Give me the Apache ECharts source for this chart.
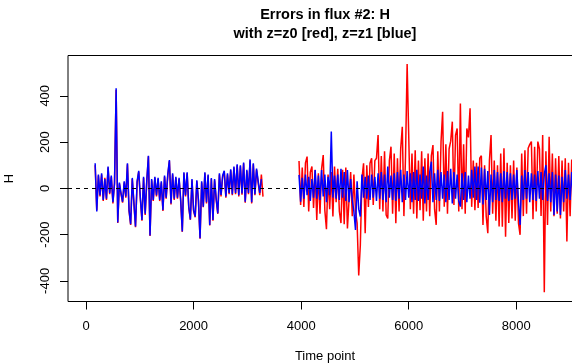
<!DOCTYPE html>
<html>
<head>
<meta charset="utf-8">
<script src="https://cdn.jsdelivr.net/npm/echarts@6/dist/echarts.min.js"></script>
<style>html,body{margin:0;padding:0;background:#fff;}#c{width:572px;height:364px;}</style>
</head>
<body>
<div id="c"></div>
<script>
// ---- data ----
const titleText = 'Errors in flux #2: H';
const subtitleText = 'with z=z0 [red], z=z1 [blue]';
const xName = 'Time point';
const yName = 'H';
const xTicks = [0, 2000, 4000, 6000, 8000];
const yTicks = [-400, -200, 0, 200, 400];

// segment 1: time points 170, 200, ... ; segment 2: 3960, 3990, ...
const seg1Start = 170, seg2Start = 3960, timeStep = 30;

const blueSeg1 = [
  108, -100, 60, -30, 65, -50, 40, -45, 94, -20,
  55, -60, 20, 432, -148, 25, -20, -58, 30, -35,
  108, -94, -155, 45, -60, -165, 30, 76, -40, -137,
  50, -110, 35, 141, -204, 40, -50, 50, -30, 45,
  -50, 30, -94, 55, -40, 60, 122, -65, 65, -45,
  50, -40, 45, -50, -186, 69, -30, 69, -79, -134,
  40, -94, -122, 35, -50, -216, 30, -79, 69, -60,
  60, -158, 45, -137, 40, -45, -108, 65, -29, 55,
  76, -35, 65, -20, 82, -25, 94, -20, 104, -30,
  100, -22, 111, -58, 80, -20, 125, -60, 108, -25,
  85, 86, -20, 40
];
const redSeg1 = [
  100, -95, 55, -35, 60, -55, 45, -50, 90, -25,
  50, -65, 25, 425, -150, 20, -25, -62, 25, -40,
  104, -98, -158, 40, -65, -168, 25, 72, -45, -140,
  45, -115, 30, 138, -206, 35, -55, 45, -35, 40,
  -55, 25, -98, 50, -45, 55, 118, -70, 60, -50,
  45, -45, 40, -55, -188, 65, -35, 65, -82, -136,
  35, -98, -125, 30, -55, -218, 25, -82, 65, -65,
  55, -160, 40, -140, 35, -50, -110, 60, -35, 50,
  72, -40, 60, -25, 78, -30, 90, -25, 100, -35,
  95, -28, 107, -62, 75, -25, 120, -65, 104, -30,
  80, 75, -30, 60, -36
];
const blueSeg2 = [
  58, -58, 45, -45, 60, -30, 50, -55, 40, -40,
  79, -45, 55, -50, 79, -35, 60, -60, 50, -30,
  245, -40, 55, -45, 60, -50, 84, -40, 70, -55,
  79, -60, 40, -50, -100, -180, 30, -90, -122, 60,
  -40, 50, -45, 55, -50, 60, -40, 50, -55, 65,
  -45, 70, -50, 60, -60, 94, -40, 55, -50, 65,
  -55, 70, -45, 80, -60, 60, -50, 75, -40, 65,
  -60, 70, -50, 80, -55, 60, -45, 94, -65, 55,
  -50, 70, 115, -60, 65, -50, 80, -55, 70, -45,
  60, -60, 75, -50, 85, -65, 70, -45, 60, -55,
  -79, 65, -50, 70, -60, 55, -45, 80, -40, 94,
  -50, 94, -62, 90, -70, 85, -50, 75, -115, 60,
  -60, 79, -50, 70, -55, 65, -60, 75, -45, 70,
  -55, 65, -50, 60, -45, 79, -60, -158, 55, -50,
  79, -45, 70, -60, 65, -50, 60, -55, 75, -45,
  70, -50, 60, 100, -55, 65, -60, 70, -115, 60,
  -100, 55, -115, 50, -60, 79, -45, 60, -50, 70,
  -40, 55, -50, 45
];
const redSeg2 = [
  118, -72, 90, -80, 110, 137, -100, 70, 94, -85,
  80, -137, 65, -110, 85, 144, -95, -177, 60, -90,
  70, -122, 94, -60, 85, -100, -150, 80, -155, 90,
  -173, -180, 70, -120, 60, -100, -150, -377, -245, 40,
  108, -194, 100, -80, 108, 130, -72, 120, 130, 230,
  -90, 140, -100, 160, -115, -130, 120, 180, -110, 150,
  -151, 130, -100, 170, 266, -120, 140, 537, 223, -90,
  150, -110, 165, -130, 120, -95, 160, -140, 130, -100,
  150, -120, 140, 187, -90, -158, 160, -100, 200, 331,
  -80, 190, -110, 170, 204, 288, -72, 230, 259, -100,
  367, -90, 190, -110, 259, 220, 346, -80, 120, -95,
  110, -85, 130, 141, -158, 100, -120, -194, 120, 230,
  -110, 120, -140, 100, -165, 150, -166, 173, -209, 110,
  -150, 100, -130, 120, -140, 90, -150, -201, 150, -120,
  165, -110, 173, 190, 202, -134, 180, -100, 202, 170,
  -120, 230, -449, 160, -158, 223, -100, 150, -120, 130,
  -110, 140, -130, 120, -100, 130, -230, 110, -120, 125,
  -90, 130, -100, 110
];
const refLevel = 0;

// ---- build ----
function pairs(start, vals) { return vals.map((v, i) => [start + i * timeStep, v]); }
const FONT = 'Liberation Sans, Arial, Helvetica, sans-serif';

function lineSeries(data, color, z) {
  return {
    type: 'line', data: data, showSymbol: false, symbol: 'none', z: z,
    lineStyle: { color: color, width: 1.5 }, animation: false, silent: true
  };
}

const chart = echarts.init(document.getElementById('c'), null, { renderer: 'canvas' });
const series = [
  lineSeries(pairs(seg1Start, redSeg1), '#ff0000', 2),
  lineSeries(pairs(seg2Start, redSeg2), '#ff0000', 2),
  lineSeries(pairs(seg1Start, blueSeg1), '#0000ff', 3),
  lineSeries(pairs(seg2Start, blueSeg2), '#0000ff', 3)
];
series[3].markLine = {
  silent: true, symbol: ['none', 'none'], label: { show: false },
  lineStyle: { color: '#000', type: [4, 4], width: 1 },
  data: [{ yAxis: refLevel }], animation: false, z: 10
};

chart.setOption({
  animation: false,
  backgroundColor: '#fff',
  title: {
    text: titleText + '\n' + subtitleText,
    left: 320, top: 0, textAlign: 'center',
    textStyle: { fontFamily: FONT, fontWeight: 'bold', fontSize: 14.5, color: '#000', lineHeight: 19 }
  },
  grid: { left: 68, right: -10, top: 55.5, bottom: 62.5, outerBoundsMode: 'none', containLabel: false,
          show: true, borderColor: '#000', borderWidth: 1, backgroundColor: 'transparent' },
  xAxis: {
    type: 'value', min: -335, max: 9221,
    name: xName, nameLocation: 'middle', nameGap: 48,
    nameTextStyle: { fontFamily: FONT, fontSize: 13, color: '#000' },
    axisLine: { show: false, onZero: false },
    axisTick: { show: true, length: 8, inside: false, customValues: xTicks, lineStyle: { color: '#000' } },
    axisLabel: { customValues: xTicks, formatter: v => String(v), fontFamily: FONT, fontSize: 13, color: '#000', margin: 18 },
    splitLine: { show: false }
  },
  yAxis: {
    type: 'value', min: -489, max: 574,
    name: yName, nameLocation: 'middle', nameGap: 52, nameRotate: 90,
    nameTextStyle: { fontFamily: FONT, fontSize: 13, color: '#000' },
    axisLine: { show: false, onZero: false },
    axisTick: { show: true, length: 8, inside: false, customValues: yTicks, lineStyle: { color: '#000' } },
    axisLabel: { customValues: yTicks, formatter: v => String(v), rotate: 90, fontFamily: FONT, fontSize: 13, color: '#000', margin: 16 },
    splitLine: { show: false }
  },
  series: series
});
</script>
</body>
</html>
